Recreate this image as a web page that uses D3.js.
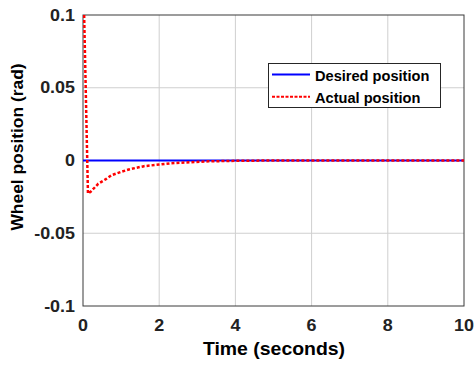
<!DOCTYPE html>
<html>
<head>
	<meta charset="utf-8">
	<title>Wheel position</title>
	<style>
		body { margin: 0; background: #fff; }
		svg { font-family: 'Liberation Sans', Arial, sans-serif; font-weight: bold; }
	</style>
</head>
<body>
<svg width="476" height="365"></svg>
<script src="https://d3js.org/d3.v7.min.js"></script>
<script>

	// values
	let xTicks = [0, 2, 4, 6, 8, 10]
	let yTicks = [-0.1, -0.05, 0, 0.05, 0.1]
	let desiredT = [0, 10]
	let desiredPos = [0, 0]
	let actualT = [0.03, 0.13, 0.2, 0.4, 0.6, 0.75, 1.0, 1.2, 1.4, 1.6, 2.0, 2.3, 2.8, 3.3, 4.0, 5.0, 10]
	let actualPos = [0.1, -0.0227, -0.0215, -0.016, -0.0128, -0.0101, -0.0078, -0.0062, -0.005, -0.0039, -0.0028, -0.0019, -0.0012, -0.0006, -0.0002, 0, 0]
	let legendNames = ['Desired position', 'Actual position']

	let svg = d3.select('svg')

	let pLeft = 83, pRight = 464, pTop = 15, pBottom = 306

	let x = d3.scaleLinear().domain([0, 10]).range([pLeft, pRight])
	let y = d3.scaleLinear().domain([-0.1, 0.1]).range([pBottom, pTop])

	// clip so the spike stays in the box
	svg.append('clipPath').attr('id', 'plotClip')
		.append('rect')
		.attr('x', pLeft).attr('y', pTop)
		.attr('width', pRight - pLeft).attr('height', pBottom - pTop)

	// grid
	svg.append('g')
		.selectAll('line')
		.data(xTicks.slice(1, -1))
		.join('line')
		.attr('x1', d => x(d)).attr('x2', d => x(d))
		.attr('y1', pTop).attr('y2', pBottom)
		.style('stroke', '#cfcfcf')
		.style('stroke-width', 1)

	svg.append('g')
		.selectAll('line')
		.data(yTicks.slice(1, -1))
		.join('line')
		.attr('y1', d => y(d)).attr('y2', d => y(d))
		.attr('x1', pLeft).attr('x2', pRight)
		.style('stroke', '#cfcfcf')
		.style('stroke-width', 1)

	// box
	svg.append('rect')
		.attr('x', pLeft).attr('y', pTop)
		.attr('width', pRight - pLeft).attr('height', pBottom - pTop)
		.style('fill', 'none')
		.style('stroke', '#3a3a3a')
		.style('stroke-width', 1)

	// tick labels
	let fmt = d => d === 0 ? '0' : String(d)

	svg.append('g')
		.selectAll('text')
		.data(xTicks)
		.join('text')
		.attr('transform', d => `translate(${x(d)},331) scale(1.12,1)`)
		.attr('text-anchor', 'middle')
		.style('font-size', '16px')
		.style('fill', '#222')
		.text(fmt)

	svg.append('g')
		.selectAll('text')
		.data(yTicks)
		.join('text')
		.attr('transform', d => `translate(75,${y(d) + 5.5}) scale(1.12,1)`)
		.attr('text-anchor', 'end')
		.style('font-size', '16px')
		.style('fill', '#222')
		.text(fmt)

	// axis titles
	svg.append('text')
		.attr('transform', 'translate(274,355) scale(1.08,1)')
		.attr('text-anchor', 'middle')
		.style('font-size', '18px')
		.style('fill', '#000')
		.text('Time (seconds)')

	svg.append('text')
		.attr('transform', 'translate(23,147) rotate(-90)')
		.attr('text-anchor', 'middle')
		.style('font-size', '17.4px')
		.style('fill', '#000')
		.text('Wheel position (rad)')

	// lines
	let line = d3.line()
		.x(d => x(d[0]))
		.y(d => y(d[1]))

	let plot = svg.append('g').attr('clip-path', 'url(#plotClip)')

	plot.append('path')
		.attr('d', line(d3.zip(desiredT, desiredPos)))
		.style('fill', 'none')
		.style('stroke', '#0000ff')
		.style('stroke-width', 2)

	plot.append('path')
		.attr('d', line(d3.zip(actualT, actualPos)))
		.style('fill', 'none')
		.style('stroke', '#ff0000')
		.style('stroke-width', 2.5)
		.style('stroke-dasharray', '3,2')

	// legend
	let legend = svg.append('g')

	legend.append('rect')
		.attr('x', 268.5).attr('y', 63.5)
		.attr('width', 172).attr('height', 44)
		.style('fill', 'white')
		.style('stroke', '#262626')
		.style('stroke-width', 1)

	let colors = ['#0000ff', '#ff0000']
	let dashes = ['none', '3,1.5']

	legendNames.forEach((name, i) => {
		let ly = 74.5 + i * 22.3
		legend.append('line')
			.attr('x1', 272).attr('x2', 310)
			.attr('y1', ly).attr('y2', ly)
			.style('stroke', colors[i])
			.style('stroke-width', 2)
			.style('stroke-dasharray', dashes[i])
		legend.append('text')
			.attr('x', 315)
			.attr('y', ly + 6)
			.style('font-size', '14.6px')
			.style('fill', '#000')
			.text(name)
	})

</script>
</html>
